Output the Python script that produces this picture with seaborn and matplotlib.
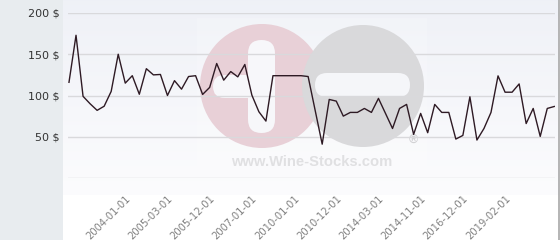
import numpy as np
import matplotlib
matplotlib.use("Agg")
import matplotlib.pyplot as plt
import seaborn as sns
from matplotlib.patches import Circle, FancyBboxPatch, Rectangle

# ---- data ----
prices = [116, 173, 99, 90, 82, 87, 105, 150, 115, 124,
          101.5, 132.5, 125, 125.5, 100, 118, 107.7, 123, 124, 101.3,
          109.8, 138.8, 118.6, 129, 122.6, 137.6, 100.5, 80.3, 69, 124,
          124, 124, 124, 124, 123, 82, 41, 95.2, 93.2, 75,
          79.5, 79.5, 84.3, 79.5, 96.5, 78.3, 60, 84.3, 89.2, 52.9,
          78.3, 54.9, 89.2, 79.5, 79.5, 47.2, 51.6, 98.4, 46, 60,
          79.5, 123.8, 104, 104, 114, 66, 84.3, 50.4, 84.3, 86.7]
tick_positions = [9, 15, 21, 27, 33, 39, 45, 51, 57, 63]
tick_labels = ['2004-01-01', '2005-03-01', '2005-12-01', '2007-01-01', '2010-01-01',
               '2010-12-01', '2014-03-01', '2014-11-01', '2016-12-01', '2019-02-01']
y_ticks = [0, 50, 100, 150, 200]
y_labels = ['', '50 $', '100 $', '150 $', '200 $']

W, H = 560, 240
fig = plt.figure(figsize=(W / 100, H / 100), dpi=100)
fig.patch.set_facecolor('white')

def px(x0, y0, x1, y1):
    # pixel box (top-left origin) -> figure fraction rect
    return [x0 / W, 1 - y1 / H, (x1 - x0) / W, (y1 - y0) / H]

# left grey panel
fig.patches.append(Rectangle((0, 0), 63 / W, 1, transform=fig.transFigure,
                             facecolor='#e8ecef', edgecolor='none', zorder=0))

# gradient background of plot region
bg = fig.add_axes(px(63, 0, 559, 195), zorder=0)
grad = np.linspace(0, 1, 256).reshape(-1, 1)
top = np.array([0.937, 0.945, 0.968])
bot = np.array([0.988, 0.988, 0.994])
img = top[None, None, :] * (1 - grad[:, :, None]) + bot[None, None, :] * grad[:, :, None]
bg.imshow(img, aspect='auto', extent=[0, 1, 0, 1])
bg.set_axis_off()

# watermark overlay (pixel coordinates)
ov = fig.add_axes([0, 0, 1, 1], zorder=1)
ov.set_xlim(0, W)
ov.set_ylim(H, 0)
ov.set_axis_off()
ov.patch.set_alpha(0)
ov.add_patch(Rectangle((197, 18), 230, 155, facecolor='white', alpha=0.18, edgecolor='none'))
ov.add_patch(Circle((262, 86), 62, facecolor='#e8d0d7', edgecolor='none'))
ov.add_patch(FancyBboxPatch((248, 40), 27, 93, boxstyle='round,pad=0,rounding_size=13.5',
                            facecolor='#f7f7fa', edgecolor='none'))
ov.add_patch(FancyBboxPatch((213, 75), 50, 23, boxstyle='round,pad=0,rounding_size=11.5',
                            facecolor='#f7f7fa', edgecolor='none'))
ov.add_patch(Circle((363, 86), 61, facecolor='#d9d9db', edgecolor='none'))
ov.add_patch(FancyBboxPatch((315, 73), 95, 24, boxstyle='round,pad=0,rounding_size=12',
                            facecolor='#f5f6f9', edgecolor='none'))
ov.text(312, 162, 'www.Wine-Stocks.com', ha='center', va='center', fontsize=10.6,
        fontweight='bold', family='Liberation Sans', color='#e0e0e2')
ov.text(413, 140, '®', ha='center', va='center', fontsize=9, fontweight='bold',
        family='Liberation Sans', color='#d2d2d4')
ov.plot([559, 559], [0, 240], color='#a8a8a8', lw=1.2)

# main chart
ax = fig.add_axes(px(68, 13, 555, 178), zorder=2)
ax.patch.set_alpha(0)
sns.lineplot(x=list(range(len(prices))), y=prices, ax=ax, color='#2e1a24', linewidth=1.0)
ax.set_xlim(-0.14, 69.1)
ax.set_ylim(0, 200)
ax.set_yticks(y_ticks)
ax.set_yticklabels(y_labels, fontsize=8, color='#333333')
ax.set_xticks(tick_positions)
ax.set_xticklabels(tick_labels, rotation=45, ha='right', va='top', fontsize=7.2, color='#808080')
ax.tick_params(axis='both', length=0)
ax.tick_params(axis='y', pad=6)
ax.tick_params(axis='x', pad=11)
ax.grid(axis='y', color='#d9d9dc', linewidth=1.0)
ax.grid(axis='x', visible=False)
ax.set_axisbelow(True)
for s in ax.spines.values():
    s.set_visible(False)
ax.set_xlabel('')
ax.set_ylabel('')

fig.savefig('out.png', dpi=100)
